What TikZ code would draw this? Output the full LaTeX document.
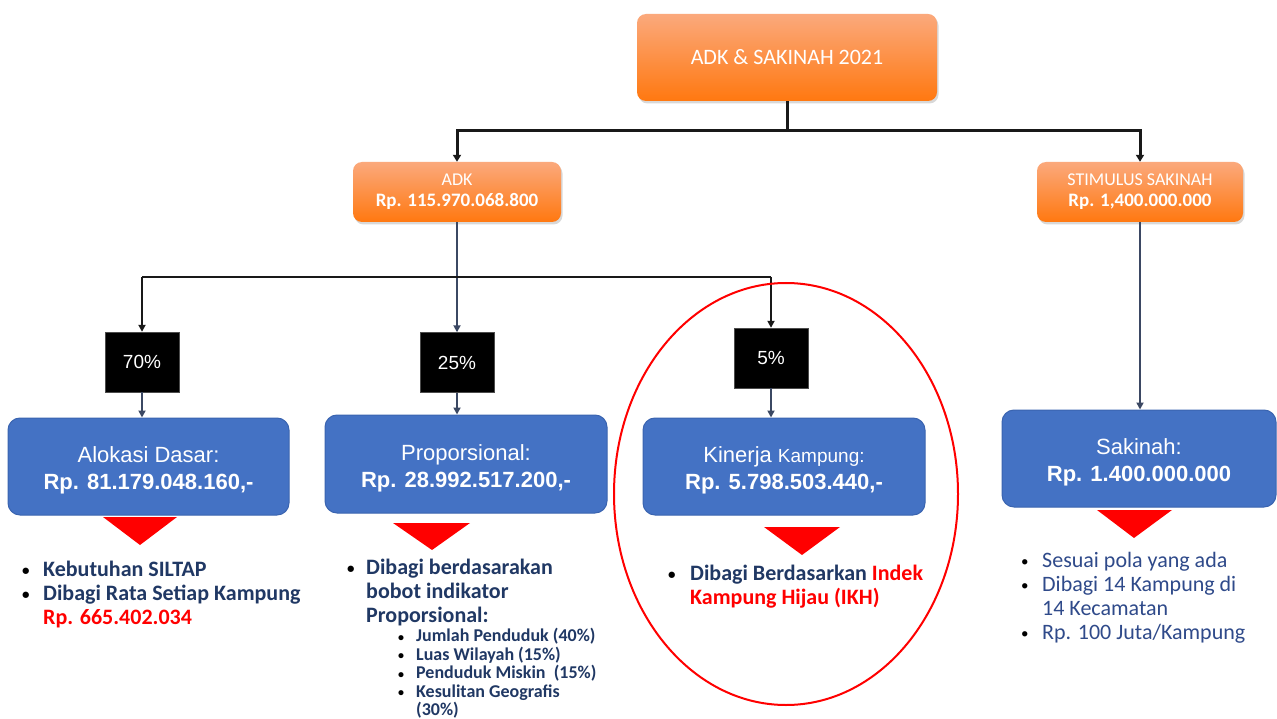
\documentclass[tikz,border=0pt]{standalone}
\usepackage{fontspec}
\setmainfont{Carlito}
\newfontfamily\arialf{Liberation Sans}
\usetikzlibrary{arrows.meta,shadows}
\definecolor{blbox}{HTML}{4472C4}
\definecolor{blborder}{HTML}{3A64B0}
\definecolor{navy}{HTML}{203864}
\definecolor{navytwo}{HTML}{2F4A8A}
\definecolor{redt}{HTML}{FF0000}
\definecolor{ortop}{HTML}{FBA97C}
\definecolor{orbot}{HTML}{FF7810}
\definecolor{slate}{HTML}{3B4863}
\newcommand\bul[1]{\makebox[#1][l]{\raisebox{1pt}{\textcolor{black}{\fontsize{15}{15}\selectfont •}}}}
\newcommand\bulsm[1]{\makebox[#1][l]{\raisebox{0.5pt}{\textcolor{black}{\fontsize{12}{12}\selectfont •}}}}
\tikzset{
  orbox/.style={rounded corners=9pt, top color=ortop, bottom color=orbot, draw=none,
    text=white, align=center, inner sep=0pt,
    drop shadow={shadow xshift=1.5pt, shadow yshift=-2.5pt, opacity=0.3, fill=gray}},
  pctbox/.style={fill=black, draw=black!70, text=white, inner sep=0pt,
    minimum width=74pt, minimum height=60pt, font=\arialf\fontsize{19}{22}\selectfont},
  bluebox/.style={rounded corners=12pt, fill=blbox, draw=blborder, line width=1pt,
    text=white, align=center, inner sep=0pt,
    font=\arialf\fontsize{22}{27}\selectfont},
  toparr/.style={line width=3pt, draw=black!90, -{Triangle[length=7pt,width=8pt]}},
  topline/.style={line width=3pt, draw=black!90},
  midline/.style={line width=2.5pt, draw=black!90},
  midarr/.style={line width=2.5pt, draw=black!90, -{Triangle[length=7pt,width=7pt]}},
  slarr/.style={line width=2pt, draw=slate, -{Triangle[length=7pt,width=7pt]}},
  bultxt/.style={anchor=base west, inner sep=0pt, text=navy, align=left,
    font=\bfseries\fontsize{22}{24}\selectfont},
  redtri/.style={fill=redt}
}
\begin{document}
\begin{tikzpicture}[x=1pt,y=-1pt]
\fill[white] (0,0) rectangle (1277,719);
\useasboundingbox (0,0) rectangle (1277,719);

% top level
\node[orbox, minimum width=300pt, minimum height=87pt, font=\fontsize{22}{26}\selectfont] (top) at (787,57.5) {ADK \& SAKINAH 2021};
\node[orbox, minimum width=208pt, minimum height=60pt, font=\fontsize{18}{21}\selectfont] (adk) at (457,192) {ADK\\\textbf{\fontsize{19}{21}\selectfont Rp. 115.970.068.800}};
\node[orbox, minimum width=206pt, minimum height=60pt, font=\fontsize{18}{21}\selectfont] (stim) at (1140,192) {STIMULUS SAKINAH\\\textbf{\fontsize{19}{21}\selectfont Rp. 1,400.000.000}};

\coordinate (j1) at (787,131);
\draw[topline] (top.south) -- (j1);
\draw[toparr] (j1) -| (adk.north);
\draw[toparr] (j1) -| (stim.north);

% percentage boxes
\node[pctbox] (p70) at (142,362) {70\%};
\node[pctbox] (p25) at (457,362.5) {25\%};
\node[pctbox] (p5) at (771,358) {5\%};

\coordinate (j2) at (457,277);
\draw[slarr] (adk.south) -- (p25.north);
\draw[midline] (j2) -- (p70.north |- j2);
\draw[midarr] (p70.north |- j2) -- (p70.north);
\draw[midline] (j2) -- (p5.north |- j2);
\draw[midarr] (p5.north |- j2) -- (p5.north);

% blue boxes
\node[bluebox, minimum width=281pt, minimum height=97pt] (al) at (148.5,466.5) {\rule{0pt}{24pt}Alokasi Dasar:\\\textbf{Rp. 81.179.048.160,-}};
\node[bluebox, minimum width=282pt, minimum height=98pt] (pr) at (466,464) {\rule{0pt}{24pt}Proporsional:\\\textbf{Rp. 28.992.517.200,-}};
\node[bluebox, minimum width=282pt, minimum height=97pt] (ki) at (784,466.5) {\rule{0pt}{24pt}Kinerja {\fontsize{19}{27}\selectfont Kampung:}\\\textbf{Rp. 5.798.503.440,-}};
\node[bluebox, minimum width=274pt, minimum height=97pt] (sa) at (1139,458.5) {\rule{0pt}{24pt}Sakinah:\\\textbf{Rp. 1.400.000.000}};

\draw[slarr] (p70.south) -- (p70.south |- al.north);
\draw[slarr] (p25.south) -- (p25.south |- pr.north);
\draw[slarr] (p5.south) -- (p5.south |- ki.north);
\draw[slarr] (stim.south) -- (stim.south |- sa.north);

% red triangles
\fill[redtri] (103,517) -- (177,517) -- (140,545) -- cycle;
\fill[redtri] (393,523) -- (470,523) -- (432,550) -- cycle;
\fill[redtri] (764,527) -- (840,527) -- (802,555) -- cycle;
\fill[redtri] (1097,510) -- (1172,510) -- (1134,538) -- cycle;

% red ellipse
\draw[redt, line width=2pt] (786,494) ellipse [x radius=172, y radius=211];

% bullet texts (base anchor = baseline of last line)
\node[bultxt] (altxt) at (22,624) {\bul{21pt}Kebutuhan SILTAP\\
\bul{21pt}Dibagi Rata Setiap Kampung\\
\hspace*{21pt}\textcolor{redt}{Rp. 665.402.034}};

\node[bultxt] (prtxt) at (347,622) {\bul{19pt}Dibagi berdasarakan\\
\hspace*{19pt}bobot indikator\\
\hspace*{19pt}Proporsional:};

\node[bultxt, font=\bfseries\fontsize{18}{18.5}\selectfont] (prsub) at (398,715.5) {\bulsm{18pt}Jumlah Penduduk (40\%)\\
\bulsm{18pt}Luas Wilayah (15\%)\\
\bulsm{18pt}Penduduk Miskin\ \ (15\%)\\
\bulsm{18pt}Kesulitan Geografis\\
\hspace*{18pt}(30\%)};

\node[bultxt] (kitxt) at (668,604) {\bul{22pt}Dibagi Berdasarkan \textcolor{redt}{Indek}\\
\hspace*{22pt}\textcolor{redt}{Kampung Hijau (IKH)}};

\node[bultxt, text=navytwo, font=\fontsize{22}{24}\selectfont] (satxt) at (1021,639) {\bul{21pt}Sesuai pola yang ada\\
\bul{21pt}Dibagi 14 Kampung di\\
\hspace*{21pt}14 Kecamatan\\
\bul{21pt}Rp. 100 Juta/Kampung};
\end{tikzpicture}
\end{document}
